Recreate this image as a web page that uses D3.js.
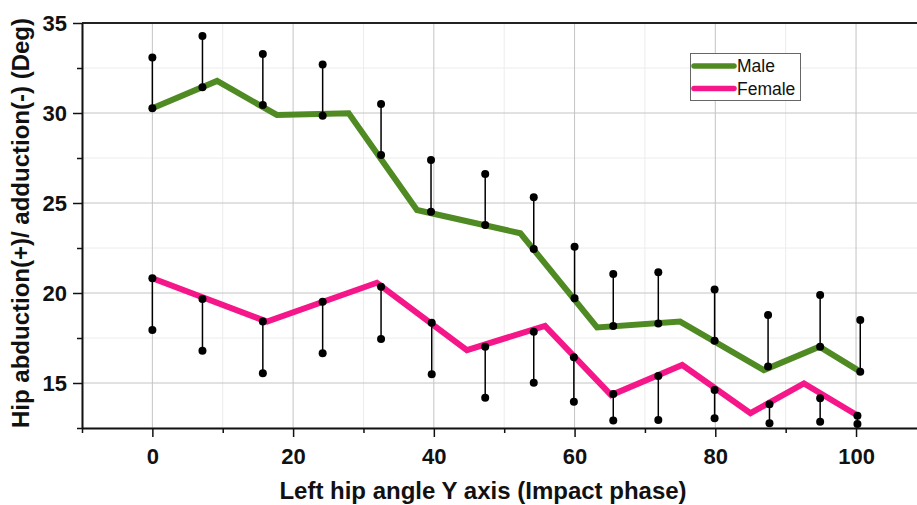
<!DOCTYPE html>
<html>
<head>
<meta charset="utf-8">
<script src="https://cdn.jsdelivr.net/npm/d3@7"></script>
<style>
  body { margin: 0; background: #fff; }
  svg { display: block; font-family: Arial, "Liberation Sans", sans-serif; }
</style>
</head>
<body>
<svg id="chart" width="917" height="505"></svg>
<script>
// mean lines (vertices)
const maleLineX = [0, 9.2, 17.7, 27.9, 37.6, 52.3, 63.2, 75.0, 86.9, 94.8, 100.6];
const maleLineY = [30.26, 31.78, 29.89, 29.98, 24.61, 23.32, 18.09, 18.41, 15.72, 17.02, 15.63];
const femaleLineX = [0, 16.3, 31.9, 44.7, 55.8, 65.2, 75.3, 85.0, 92.6, 100.1];
const femaleLineY = [20.82, 18.41, 20.57, 16.83, 18.17, 14.33, 16.0, 13.32, 14.98, 13.22];

// error bars
const maleBarX = [0, 7.12, 15.7, 24.2, 32.5, 39.6, 47.3, 54.2, 60.0, 65.5, 71.9, 79.9, 87.5, 94.9, 100.6];
const maleMean = [30.26, 31.43, 30.44, 29.85, 27.67, 24.52, 23.78, 22.44, 19.71, 18.17, 18.31, 17.35, 15.91, 17.02, 15.63];
const maleUpper = [33.09, 34.28, 33.28, 32.70, 30.50, 27.39, 26.61, 25.32, 22.57, 21.06, 21.15, 20.20, 18.78, 19.89, 18.50];
const femaleBarX = [0, 7.12, 15.7, 24.2, 32.5, 39.7, 47.3, 54.2, 59.9, 65.5, 71.9, 79.9, 87.7, 94.9, 100.2];
const femaleMean = [20.82, 19.67, 18.41, 19.52, 20.35, 18.35, 17.02, 17.85, 16.43, 14.39, 15.39, 14.61, 13.82, 14.15, 13.18];
const femaleLower = [17.94, 16.79, 15.54, 16.65, 17.44, 15.48, 14.18, 15.02, 13.96, 12.91, 12.94, 13.04, 12.76, 12.85, 12.72];

const xMajor = [0, 20, 40, 60, 80, 100];
const xMinor = [-10, 10, 30, 50, 70, 90, 110];
const yMajor = [15, 20, 25, 30, 35];
const yMinor = [12.5, 17.5, 22.5, 27.5, 32.5];

const seriesNames = ["Male", "Female"];
const colors = ["#4f8a23", "#f5168a"];

const margin = {top: 23, left: 82};
const plotW = 844.4, plotH = 405;

const svg = d3.select("#chart");
const x = d3.scaleLinear().domain([-10, 110]).range([margin.left, margin.left + plotW]);
const y = d3.scaleLinear().domain([12.5, 35]).range([margin.top + plotH, margin.top]);

// grid
const grid = svg.append("g");
grid.selectAll(".vmin").data(xMinor).join("line")
    .attr("x1", d => x(d)).attr("x2", d => x(d))
    .attr("y1", y(35)).attr("y2", y(12.5))
    .attr("stroke", "#ececec").attr("stroke-width", 1);
grid.selectAll(".hmin").data(yMinor).join("line")
    .attr("x1", x(-10)).attr("x2", x(110))
    .attr("y1", d => y(d)).attr("y2", d => y(d))
    .attr("stroke", "#ececec").attr("stroke-width", 1);
grid.selectAll(".vmaj").data(xMajor).join("line")
    .attr("x1", d => x(d)).attr("x2", d => x(d))
    .attr("y1", y(35)).attr("y2", y(12.5))
    .attr("stroke", "#c4c4c4").attr("stroke-width", 1);
grid.selectAll(".hmaj").data(yMajor).join("line")
    .attr("x1", x(-10)).attr("x2", x(110))
    .attr("y1", d => y(d)).attr("y2", d => y(d))
    .attr("stroke", "#c4c4c4").attr("stroke-width", 1);

// top frame
svg.append("line")
    .attr("x1", x(-10)).attr("x2", x(110))
    .attr("y1", y(35)).attr("y2", y(35))
    .attr("stroke", "#222").attr("stroke-width", 2);

// mean lines
const line = d3.line().x(d => x(d[0])).y(d => y(d[1]));
const lineData = [d3.zip(maleLineX, maleLineY), d3.zip(femaleLineX, femaleLineY)];
svg.selectAll(".mean").data(lineData).join("path")
    .attr("fill", "none")
    .attr("stroke", (d, i) => colors[i])
    .attr("stroke-width", 6)
    .attr("stroke-linejoin", "miter")
    .attr("d", line);

// error bars
const bars = d3.zip(maleBarX, maleMean, maleUpper)
    .concat(d3.zip(femaleBarX, femaleMean, femaleLower));
const eb = svg.append("g");
eb.selectAll("line").data(bars).join("line")
    .attr("x1", d => x(d[0])).attr("x2", d => x(d[0]))
    .attr("y1", d => y(d[1])).attr("y2", d => y(d[2]))
    .attr("stroke", "#000").attr("stroke-width", 1.5);
eb.selectAll("circle").data(bars.flatMap(d => [[d[0], d[1]], [d[0], d[2]]])).join("circle")
    .attr("cx", d => x(d[0])).attr("cy", d => y(d[1]))
    .attr("r", 4).attr("fill", "#000");

// axes
svg.append("g")
    .attr("transform", "translate(0," + y(12.5) + ")")
    .call(d3.axisBottom(x).tickValues(xMajor).tickSize(9).tickSizeOuter(0).tickPadding(11));
svg.append("g")
    .attr("transform", "translate(0," + y(12.5) + ")")
    .call(d3.axisBottom(x).tickValues(xMinor).tickSize(5).tickSizeOuter(0).tickFormat(""))
    .call(g => g.select(".domain").remove());
svg.append("g")
    .attr("transform", "translate(" + x(-10) + ",0)")
    .call(d3.axisLeft(y).tickValues(yMajor).tickSize(9).tickSizeOuter(0).tickPadding(6));
svg.append("g")
    .attr("transform", "translate(" + x(-10) + ",0)")
    .call(d3.axisLeft(y).tickValues(yMinor).tickSize(5).tickSizeOuter(0).tickFormat(""))
    .call(g => g.select(".domain").remove());

svg.selectAll(".domain").attr("stroke", "#111").attr("stroke-width", 2);
svg.selectAll(".tick line").attr("stroke", "#111").attr("stroke-width", 1.5);
svg.selectAll(".tick text")
    .attr("font-family", "Arial, 'Liberation Sans', sans-serif")
    .attr("font-size", 22).attr("font-weight", "bold").attr("fill", "#111");

// axis titles
svg.append("text")
    .attr("x", 483).attr("y", 499)
    .attr("text-anchor", "middle")
    .attr("font-size", 24).attr("font-weight", "bold").attr("fill", "#111")
    .text("Left hip angle Y axis (Impact phase)");
svg.append("text")
    .attr("transform", "translate(29,223) rotate(-90)")
    .attr("text-anchor", "middle")
    .attr("font-size", 24).attr("font-weight", "bold").attr("fill", "#111")
    .text("Hip abduction(+)/ adduction(-) (Deg)");

// legend
const legend = svg.append("g");
legend.append("rect")
    .attr("x", 690.5).attr("y", 53.5).attr("width", 110).attr("height", 47)
    .attr("fill", "#fff").attr("stroke", "#666").attr("stroke-width", 1);
seriesNames.forEach((name, i) => {
    const ly = 66 + i * 22.5;
    legend.append("line")
        .attr("x1", 694).attr("x2", 734).attr("y1", ly).attr("y2", ly)
        .attr("stroke", colors[i]).attr("stroke-width", 5.5).attr("stroke-linecap", "round");
    legend.append("text")
        .attr("x", 737).attr("y", ly + 6)
        .attr("font-size", 17.5).attr("fill", "#111")
        .text(name);
});
</script>
</body>
</html>
